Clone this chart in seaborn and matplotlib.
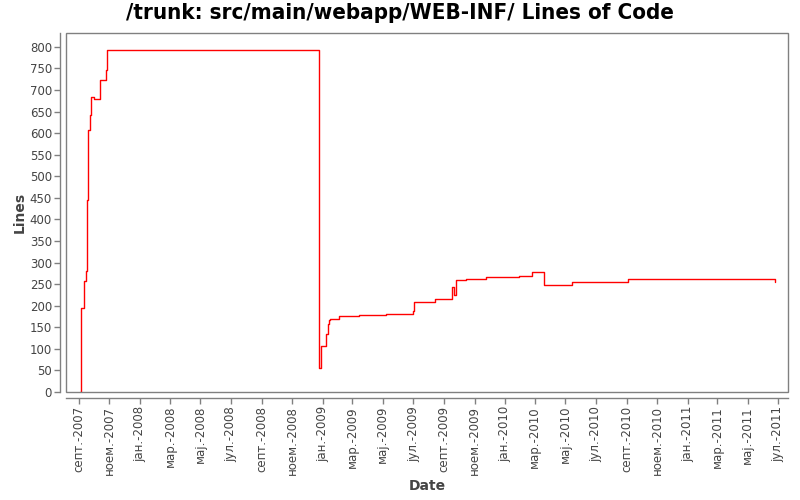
import matplotlib
matplotlib.use("Agg")
import matplotlib.pyplot as plt
import matplotlib.dates as mdates
from matplotlib.patches import Rectangle
from matplotlib.ticker import FixedLocator
import seaborn as sns
import pandas as pd

# ---- data ----
dates = [
    "2007-09-04", "2007-09-05", "2007-09-12", "2007-09-16", "2007-09-18",
    "2007-09-20", "2007-09-24", "2007-09-26", "2007-10-02", "2007-10-14",
    "2007-10-26", "2007-10-28", "2008-12-24", "2008-12-29", "2009-01-07",
    "2009-01-11", "2009-01-13", "2009-01-15", "2009-02-03", "2009-03-14",
    "2009-05-08", "2009-06-30", "2009-07-02", "2009-08-13", "2009-09-17",
    "2009-09-21", "2009-09-25", "2009-10-14", "2009-11-23", "2010-01-29",
    "2010-02-24", "2010-03-20", "2010-05-14", "2010-08-22", "2010-09-04",
    "2011-06-24",
]
lines = [
    0, 194, 257, 280, 444,
    607, 643, 683, 678, 724,
    747, 792, 55, 106, 134,
    157, 167, 169, 175, 178,
    181, 187, 208, 215, 243,
    224, 259, 263, 266, 269,
    277, 248, 254, 256, 261,
    256,
]
tick_dates = [
    "2007-09-01", "2007-11-01", "2008-01-01", "2008-03-01", "2008-05-01",
    "2008-07-01", "2008-09-01", "2008-11-01", "2009-01-01", "2009-03-01",
    "2009-05-01", "2009-07-01", "2009-09-01", "2009-11-01", "2010-01-01",
    "2010-03-01", "2010-05-01", "2010-07-01", "2010-09-01", "2010-11-01",
    "2011-01-01", "2011-03-01", "2011-05-01", "2011-07-01",
]
tick_labels = [
    "септ.-2007", "ноем.-2007", "јан.-2008", "мар.-2008", "мај.-2008",
    "јул.-2008", "септ.-2008", "ноем.-2008", "јан.-2009", "мар.-2009",
    "мај.-2009", "јул.-2009", "септ.-2009", "ноем.-2009", "јан.-2010",
    "мар.-2010", "мај.-2010", "јул.-2010", "септ.-2010", "ноем.-2010",
    "јан.-2011", "мар.-2011", "мај.-2011", "јул.-2011",
]
y_ticks = list(range(0, 801, 50))
title = "/trunk: src/main/webapp/WEB-INF/ Lines of Code"
x_label = "Date"
y_label = "Lines"
x_range = ["2007-08-06", "2011-07-21"]
y_range = [0, 832]

df = pd.DataFrame({"Date": pd.to_datetime(dates), "Lines": lines})

sns.set_theme(style="white")
plt.rcParams["font.family"] = ["DejaVu Sans"]

fig = plt.figure(figsize=(8, 5), dpi=100)
fig.patch.set_facecolor("white")
ax = fig.add_axes([66 / 800, 1 - 392 / 500, (788 - 66) / 800, (392 - 33) / 500])

sns.lineplot(data=df, x="Date", y="Lines", ax=ax, color="#ff0000",
             linewidth=1.0, drawstyle="steps-post", estimator=None, sort=False)

gray = "#808080"
# plot box
ax.add_patch(Rectangle((0, 0), 1, 1, transform=ax.transAxes, fill=False,
                       edgecolor=gray, linewidth=1.0, clip_on=False, zorder=5))
for s in ["top", "right"]:
    ax.spines[s].set_visible(False)
for s in ["left", "bottom"]:
    ax.spines[s].set_visible(True)
    ax.spines[s].set_color(gray)
    ax.spines[s].set_linewidth(1.0)
    ax.spines[s].set_position(("outward", 4))

ax.set_xlim(pd.to_datetime(x_range[0]), pd.to_datetime(x_range[1]))
ax.set_ylim(*y_range)
ax.xaxis.set_major_locator(FixedLocator(mdates.date2num(pd.to_datetime(tick_dates))))
ax.set_xticklabels(tick_labels, rotation=90)
ax.set_yticks(y_ticks)
ax.tick_params(axis="both", which="major", direction="out", length=4, width=1,
               color=gray, labelsize=8.5, labelcolor="#444444", pad=2,
               bottom=True, left=True)

ax.set_xlabel(x_label, fontsize=10, fontweight="bold", color="#444444", labelpad=3)
ax.set_ylabel(y_label, fontsize=10, fontweight="bold", color="#444444", labelpad=2)
ax.grid(False)

fig.suptitle(title, fontsize=16, fontweight="bold", y=1 - 13 / 500, va="center",
             fontstretch="condensed", color="#000000")

fig.savefig("out.png", dpi=100, facecolor="white")
